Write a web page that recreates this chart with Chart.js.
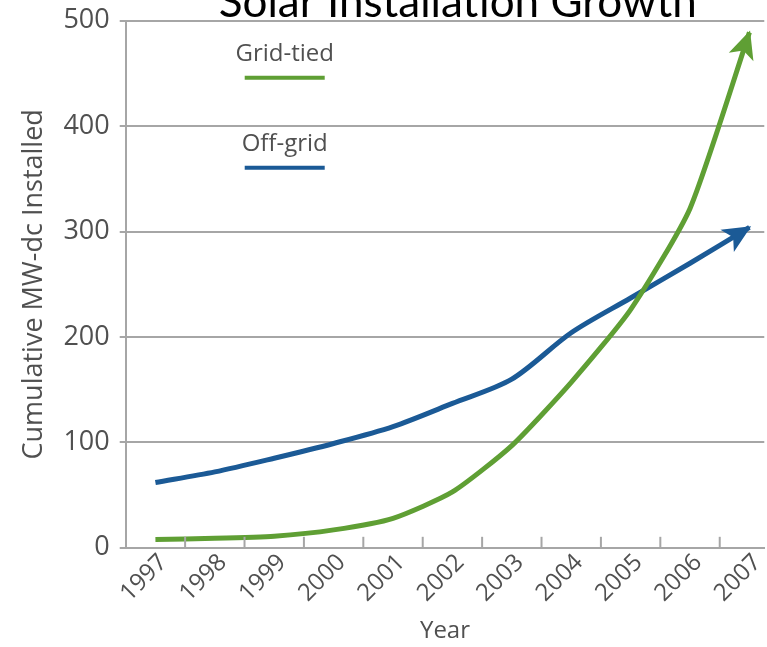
<!DOCTYPE html>
<html>
<head>
<meta charset="utf-8">
<title>Solar Installation Growth</title>
<script src="https://cdn.jsdelivr.net/npm/chart.js@4.4.1/dist/chart.umd.min.js"></script>
<style>
  html, body { margin: 0; padding: 0; background: #fff; }
  #wrap { width: 767px; height: 647px; }
</style>
</head>
<body>
<div id="wrap"><canvas id="solarChart"></canvas></div>
<script>
// values (cumulative MW-dc)
const years = [1997, 1998, 1999, 2000, 2001, 2002, 2003, 2004, 2005, 2006, 2007];
const gridTied = [8, 9, 11, 17, 28, 53, 97, 157, 226, 322, 489];
const offGrid = [62, 72, 85, 99, 115, 137, 160, 204, 237, 270, 304];
const seriesNames = ['Grid-tied', 'Off-grid'];
const yTicks = [0, 100, 200, 300, 400, 500];
const chartTitle = 'Solar Installation Growth';

const GREEN = '#5f9f34';
const BLUE = '#1b5a96';
const GRID_GREY = '#a6a6a6';
const TEXT_GREY = '#505050';
const FONT = '"Open Sans", sans-serif';

// small arrow heads at the end of each line
const arrowHeads = {
  id: 'arrowHeads',
  afterDatasetsDraw(chart) {
    const ctx = chart.ctx;
    chart.data.datasets.forEach((ds, i) => {
      const pts = chart.getDatasetMeta(i).data;
      const end = pts[pts.length - 1];
      const prev = pts[pts.length - 2];
      const ang = Math.atan2(end.y - prev.y, end.x - prev.x);
      ctx.save();
      ctx.translate(end.x, end.y);
      ctx.rotate(ang);
      ctx.beginPath();
      ctx.moveTo(2, 0);
      ctx.lineTo(-26, -13);
      ctx.lineTo(-19, 0);
      ctx.lineTo(-26, 13);
      ctx.closePath();
      ctx.fillStyle = ds.borderColor;
      ctx.fill();
      ctx.restore();
    });
  }
};

// legend sits inside the plot, text above a short line sample
const inlineLegend = {
  id: 'inlineLegend',
  afterDraw(chart) {
    const { ctx, chartArea } = chart;
    const cx = chartArea.left + 159;
    ctx.save();
    ctx.font = '24px ' + FONT;
    ctx.textAlign = 'center';
    ctx.textBaseline = 'middle';
    chart.data.datasets.forEach((ds, i) => {
      const top = chartArea.top + 33 + i * 90;
      ctx.fillStyle = TEXT_GREY;
      ctx.fillText(ds.label, cx, top);
      ctx.beginPath();
      ctx.moveTo(cx - 40, top + 24);
      ctx.lineTo(cx + 40, top + 24);
      ctx.lineWidth = 4;
      ctx.strokeStyle = ds.borderColor;
      ctx.stroke();
    });
    ctx.restore();
  }
};

// title hangs off the top edge, centred over the plot
const topTitle = {
  id: 'topTitle',
  afterDraw(chart) {
    const { ctx, chartArea } = chart;
    ctx.save();
    ctx.font = '44px Lato';
    ctx.fillStyle = '#000';
    ctx.textAlign = 'center';
    ctx.textBaseline = 'alphabetic';
    ctx.fillText(chartTitle, chartArea.left + chartArea.width * 0.52, 17);
    ctx.restore();
  }
};

// inward tick marks half way between the years
const innerTicks = {
  id: 'innerTicks',
  afterDraw(chart) {
    const { ctx, chartArea, scales } = chart;
    ctx.save();
    ctx.strokeStyle = GRID_GREY;
    ctx.lineWidth = 2;
    years.forEach(yr => {
      const px = scales.x.getPixelForValue(yr + 0.5);
      if (px > chartArea.right) return;
      ctx.beginPath();
      ctx.moveTo(px, chartArea.bottom);
      ctx.lineTo(px, chartArea.bottom - 11);
      ctx.stroke();
    });
    ctx.restore();
  }
};

new Chart(document.getElementById('solarChart'), {
  type: 'line',
  data: {
    datasets: [
      {
        label: seriesNames[0],
        data: years.map((yr, i) => ({ x: yr, y: gridTied[i] })),
        borderColor: GREEN,
        borderWidth: 5,
        tension: 0.2,
        pointRadius: 0
      },
      {
        label: seriesNames[1],
        data: years.map((yr, i) => ({ x: yr, y: offGrid[i] })),
        borderColor: BLUE,
        borderWidth: 5,
        tension: 0.3,
        pointRadius: 0
      }
    ]
  },
  options: {
    responsive: true,
    maintainAspectRatio: false,
    animation: false,
    layout: { padding: { top: 15, left: 0, right: 0, bottom: 0 } },
    plugins: {
      legend: { display: false },
      title: { display: false },
      tooltip: { enabled: false }
    },
    scales: {
      x: {
        type: 'linear',
        min: 1996.5,
        max: 2007.25,
        afterBuildTicks: scale => { scale.ticks = years.map(v => ({ value: v })); },
        ticks: {
          autoSkip: false,
          minRotation: 45,
          maxRotation: 45,
          labelOffset: 8,
          padding: 4,
          color: TEXT_GREY,
          font: { family: FONT, size: 24, lineHeight: 0.8 },
          callback: v => String(v)
        },
        grid: { drawOnChartArea: false, drawTicks: false },
        border: { display: true, color: GRID_GREY, width: 2 },
        title: {
          display: true,
          text: 'Year',
          color: TEXT_GREY,
          font: { family: FONT, size: 24 },
          padding: { top: 9, bottom: 1 }
        }
      },
      y: {
        min: 0,
        max: 500,
        afterBuildTicks: scale => { scale.ticks = yTicks.map(v => ({ value: v })); },
        ticks: {
          color: TEXT_GREY,
          padding: 10,
          font: { family: FONT, size: 27, lineHeight: 0.8 }
        },
        grid: { color: GRID_GREY, lineWidth: 2, tickLength: 6 },
        border: { display: true, color: GRID_GREY, width: 2 },
        title: {
          display: true,
          text: 'Cumulative MW-dc Installed',
          color: TEXT_GREY,
          font: { family: FONT, size: 27 },
          padding: { top: 18, bottom: 3 }
        }
      }
    }
  },
  plugins: [arrowHeads, inlineLegend, topTitle, innerTicks]
});
</script>
</body>
</html>
